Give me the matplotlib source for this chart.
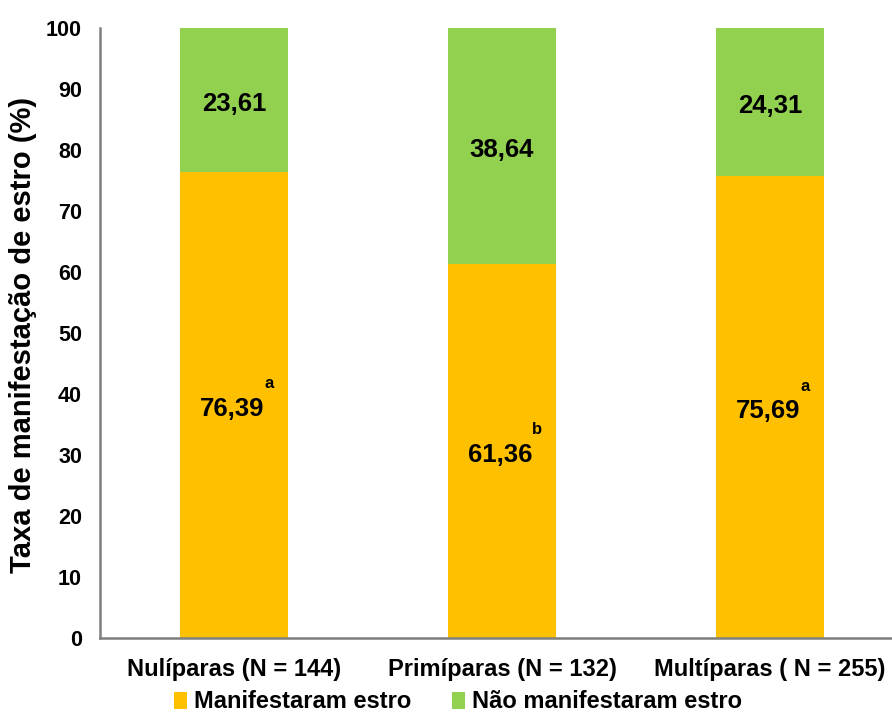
import matplotlib
matplotlib.use("Agg")
import matplotlib.pyplot as plt
from matplotlib.patches import Patch

categories = ["Nulíparas (N = 144)", "Primíparas (N = 132)", "Multíparas ( N = 255)"]
manifestaram = [76.39, 61.36, 75.69]
nao_manifestaram = [23.61, 38.64, 24.31]
man_labels = ["76,39", "61,36", "75,69"]
nao_labels = ["23,61", "38,64", "24,31"]
letters = ["a", "b", "a"]
yticks = [0, 10, 20, 30, 40, 50, 60, 70, 80, 90, 100]
series_names = ["Manifestaram estro", "Não manifestaram estro"]

plt.rcParams['font.family'] = ['Liberation Sans', 'DejaVu Sans']
plt.rcParams['font.weight'] = 'bold'

W, H = 892, 715
fig = plt.figure(figsize=(W / 100, H / 100), dpi=100)
ax = fig.add_axes([100 / W, (H - 637.5) / H, 804 / W, 609.5 / H])

orange = "#FFC000"
green = "#92D050"
x = list(range(len(categories)))
ax.bar(x, manifestaram, width=0.4, color=orange, zorder=2)
ax.bar(x, nao_manifestaram, width=0.4, bottom=manifestaram, color=green, zorder=2)

for i in x:
    ym = manifestaram[i] / 2
    ax.annotate(man_labels[i], xy=(i, ym), xytext=(-1.5, -3), textcoords='offset points',
                ha='center', va='center', fontsize=18.5, fontweight='bold', zorder=3)
    ax.annotate(letters[i], xy=(i, ym), xytext=(25.5, 15), textcoords='offset points',
                ha='center', va='center', fontsize=12, fontweight='bold', zorder=3)
    yn = manifestaram[i] + nao_manifestaram[i] / 2
    ax.annotate(nao_labels[i], xy=(i, yn), xytext=(0, -3), textcoords='offset points',
                ha='center', va='center', fontsize=18.5, fontweight='bold', zorder=3)

ax.set_xlim(-0.5, 2.5)
ax.set_ylim(0, 100)
ax.set_yticks(yticks)
ax.set_yticklabels([str(v) for v in yticks], fontsize=15.5, fontweight='bold')
ax.set_xticks(x)
ax.set_xticklabels(categories, fontsize=17, fontweight='bold')
ax.tick_params(axis='both', length=0)
ax.tick_params(axis='y', pad=13)
ax.tick_params(axis='x', pad=15)

for s in ['top', 'right']:
    ax.spines[s].set_visible(False)
for s in ['left', 'bottom']:
    ax.spines[s].set_color('#7F7F7F')
    ax.spines[s].set_linewidth(1.8)

fig.text(23 / W, 1 - 335 / H, "Taxa de manifestação de estro (%)", rotation=90,
         ha='center', va='center', fontsize=21, fontweight='bold')

handles = [Patch(facecolor=orange, edgecolor='none'), Patch(facecolor=green, edgecolor='none')]
fig.legend(handles, series_names, loc='center', bbox_to_anchor=(458 / W, 1 - 702 / H),
           ncol=2, frameon=False, handlelength=0.55, handleheight=0.75,
           handletextpad=0.3, columnspacing=1.75, borderpad=0, borderaxespad=0,
           prop={'weight': 'bold', 'size': 17})

fig.savefig("out.png", dpi=100)
